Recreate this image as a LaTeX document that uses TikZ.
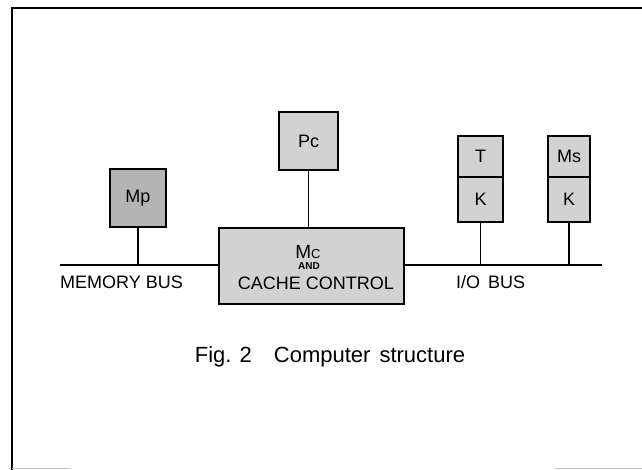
\documentclass[tikz,border=0pt]{standalone}
\usepackage{fontspec}
\setmainfont{Liberation Sans}
\usetikzlibrary{positioning}
\definecolor{stipple}{RGB}{210,210,210}
\definecolor{darkstipple}{RGB}{180,180,180}
\tikzset{
  unit/.style={draw, line width=1.4pt, fill=stipple, inner sep=0pt, outer sep=0pt,
               font=\fontsize{18}{20}\selectfont},
  bus/.style={line width=1.2pt},
  frame/.style={line width=2pt},
  lbl/.style={inner sep=0pt, font=\fontsize{18}{20}\selectfont},
}
\begin{document}
\begin{tikzpicture}[x=1pt,y=-1pt]
    \useasboundingbox (0,0) rectangle (642,470);
    % page frame
    \draw[frame] (12,470) -- (12,8) -- (642,8);
    \draw[black!25,line width=1pt] (12,468) -- (70,468);
    \draw[black!25,line width=1pt] (555,468) -- (642,468);
    % units
    \node[unit,fill=darkstipple,minimum width=56,minimum height=58] (mp) at (138,198) {Mp};
    \node[unit,minimum width=59,minimum height=58] (pc) at (308.5,141) {Pc};
    \node[unit,minimum width=185,minimum height=76] (mc) at (311.5,266) {};
    \node[lbl] (mcname) at (308,252) {\fontsize{19}{20}\selectfont M{\fontsize{13}{13}\selectfont C}};
    \node[lbl,font=\fontsize{10}{10}\selectfont\bfseries] (mcand) at (309,266) {AND};
    \node[lbl] (mcctl) at (316,283) {CACHE CONTROL};
    \node[unit,minimum width=45,minimum height=41] (t) at (480.5,156.5) {T};
    \node[unit,minimum width=45,minimum height=45,below=0pt of t] (tk) {K};
    \node[unit,minimum width=42,minimum height=41] (ms) at (569,156.5) {Ms};
    \node[unit,minimum width=42,minimum height=45,below=0pt of ms] (msk) {K};
    % buses
    \coordinate (mbus) at (60,265);
    \coordinate (iobus) at (602,265);
    \draw[bus] (mbus) -- (mbus -| mc.west);
    \draw[bus] (mc.east |- iobus) -- (iobus);
    \draw[bus] (mp.south) -- (mp.south |- mbus);
    \draw[bus] (pc.south) -- (pc.south |- mc.north);
    \draw[bus] (tk.south) -- (tk.south |- iobus);
    \draw[bus] (msk.south) -- (msk.south |- iobus);
    \node[lbl,anchor=west] (memlbl) at (60,282) {MEMORY BUS};
    \node[lbl,anchor=west] (iolbl) at (456,282) {I/O\hspace{8pt}BUS};
    % caption
    \node[lbl,font=\fontsize{22}{24}\selectfont] (cap) at (330,357) {Fig. 2\hspace{22pt}Computer\hspace{9pt}structure};
\end{tikzpicture}
\end{document}
